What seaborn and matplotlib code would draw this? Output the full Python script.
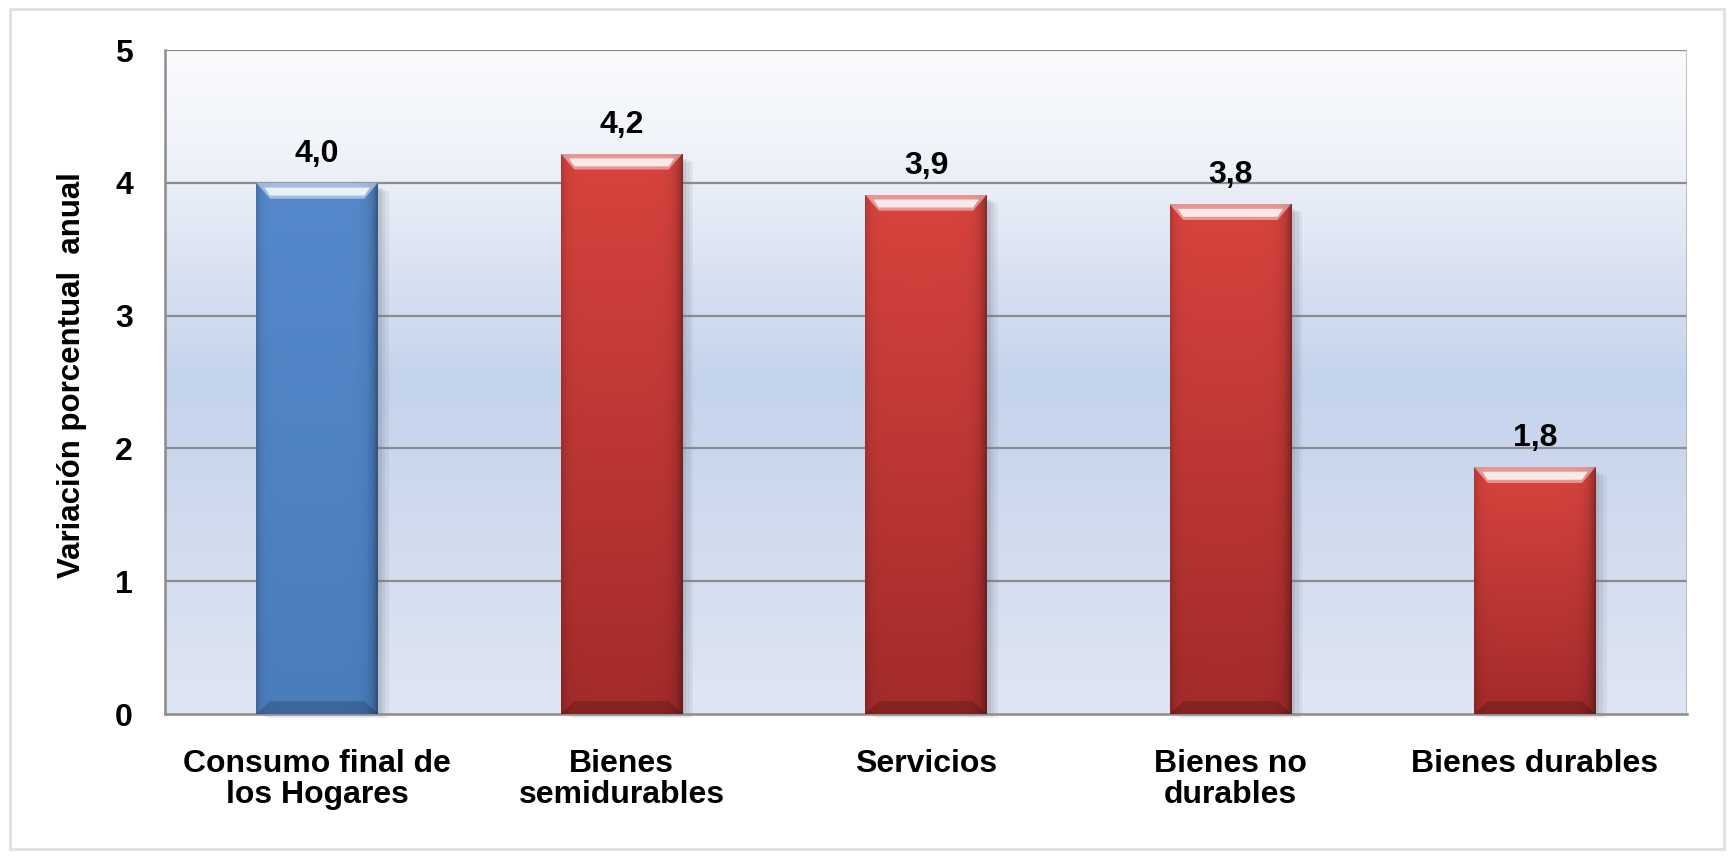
import numpy as np
import pandas as pd
import seaborn as sns
import matplotlib.pyplot as plt
from matplotlib.patches import Polygon, Rectangle
from matplotlib.colors import to_rgb

# Data
categories = ["Consumo final de\nlos Hogares", "Bienes\nsemidurables", "Servicios",
              "Bienes no\ndurables", "Bienes durables"]
values = [4.0, 4.22, 3.91, 3.84, 1.86]
value_labels = ["4,0", "4,2", "3,9", "3,8", "1,8"]
groups = ["total", "comp", "comp", "comp", "comp"]

df = pd.DataFrame({"cat": categories, "val": values, "grp": groups})

# colours (top, bottom) of each bar gradient
bar_colors = {"total": ("#5689cc", "#4b7dbd"), "comp": ("#d9433e", "#a22b2a")}

sns.set_style("white")
plt.rcParams["font.family"] = ["Liberation Sans", "DejaVu Sans"]
plt.rcParams["font.weight"] = "bold"
plt.rcParams["text.color"] = "black"
plt.rcParams["xtick.labelcolor"] = "black"
plt.rcParams["ytick.labelcolor"] = "black"
plt.rcParams["axes.labelcolor"] = "black"

fig = plt.figure(figsize=(17.32, 8.56), dpi=100)
ax = fig.add_axes([165 / 1732, 1 - 714 / 856, 1522 / 1732, 664 / 856])

# outer chart frame
fig.patches.append(Rectangle((10 / 1732, 7 / 856), 1714 / 1732, 840 / 856,
                             transform=fig.transFigure, fill=False,
                             edgecolor="#e0e0e0", lw=2, zorder=0))

# plot area background gradient
grad = np.array([to_rgb("#dfe6f3"), to_rgb("#d2dcef"), to_rgb("#c4d3ec"),
                 to_rgb("#dbe3f2"), to_rgb("#f0f3f9"), to_rgb("#fafbfd")])
yy = np.linspace(0, 1, 200)
stops = np.array([0.0, 0.25, 0.5, 0.68, 0.85, 1.0])
bg = np.stack([np.interp(yy, stops, grad[:, k]) for k in range(3)], axis=-1)
bg = bg[::-1][:, None, :]
ax.imshow(bg, extent=(0, 1, 0, 1), transform=ax.transAxes, aspect="auto", zorder=0)

sns.barplot(data=df, x="cat", y="val", hue="grp", dodge=False, width=0.4,
            palette={k: v[0] for k, v in bar_colors.items()}, legend=False,
            ax=ax, zorder=3)

ax.set_xlim(-0.5, 4.5)
ax.set_ylim(0, 5)

# bevelled look on each bar
for patch, grp, lab in zip(ax.patches, df["grp"], value_labels):
    x0 = patch.get_x()
    w = patch.get_width()
    h = patch.get_height()
    top, bot = bar_colors[grp]
    top, bot = np.array(to_rgb(top)), np.array(to_rgb(bot))
    t = np.linspace(0, 1, 120)[:, None]
    col = top * (1 - t) + bot * t
    u = np.linspace(0, 1, 120)[None, :]
    shade = 1 - 0.38 * np.exp(-(1 - u) / 0.05) - 0.18 * np.exp(-u / 0.04)
    img = np.clip(col[:, None, :] * shade[..., None], 0, 1)
    # soft shadow to the right / below
    for k, a in enumerate([0.10, 0.12, 0.16]):
        off = 0.012 * (3 - k)
        ax.add_patch(Rectangle((x0 + off, -0.03 * (3 - k) / 3), w, h - 0.03,
                               facecolor="#6d7686", alpha=a, edgecolor="none",
                               zorder=2.5, clip_on=False))
    im = ax.imshow(img, extent=(x0, x0 + w, 0, h), aspect="auto", zorder=3.2)
    im.set_clip_path(patch)
    patch.set_visible(False)
    # top bevel highlight
    bx = 0.045
    by = 0.12
    ax.add_patch(Polygon([(x0, h), (x0 + w, h), (x0 + w - bx, h - by), (x0 + bx, h - by)],
                         closed=True, facecolor="white", alpha=0.45,
                         edgecolor="none", zorder=3.4))
    ax.add_patch(Polygon([(x0 + bx * 0.6, h - by * 0.3), (x0 + w - bx * 0.6, h - by * 0.3),
                          (x0 + w - bx, h - by * 0.8), (x0 + bx, h - by * 0.8)],
                         closed=True, facecolor="white", alpha=0.8,
                         edgecolor="none", zorder=3.5))
    # bottom bevel shade
    ax.add_patch(Polygon([(x0, 0), (x0 + w, 0), (x0 + w - bx, by * 0.8), (x0 + bx, by * 0.8)],
                         closed=True, facecolor="black", alpha=0.18,
                         edgecolor="none", zorder=3.4))
    ax.annotate(lab, (x0 + w / 2, h), xytext=(0, 10), textcoords="offset points",
                ha="center", va="bottom", fontsize=23, fontweight="bold",
                color="black", zorder=5)

# grid, spines, ticks
ax.set_yticks([0, 1, 2, 3, 4, 5])
for y in [1, 2, 3, 4, 5]:
    ax.axhline(y, color="#8c8c8c", lw=1.6, zorder=1)
for s in ["top", "right"]:
    ax.spines[s].set_visible(False)
for s in ["left", "bottom"]:
    ax.spines[s].set_color("#8c8c8c")
    ax.spines[s].set_linewidth(1.8)
ax.axvline(4.5, color="#b0b0b0", lw=1.8, zorder=1)

ax.set_xticks(np.arange(-0.5, 5, 1), minor=True)
ax.tick_params(axis="x", which="major", length=0, pad=25, labelsize=23)
ax.tick_params(axis="x", which="minor", length=9, width=1.8, color="#8c8c8c", direction="out")
ax.tick_params(axis="y", length=9, width=1.8, color="#8c8c8c", direction="out",
               pad=14, labelsize=23)
for t in ax.get_xticklabels() + ax.get_yticklabels():
    t.set_fontweight("bold")
for t in ax.get_xticklabels():
    t.set_linespacing(1.05)

ax.set_xlabel("")
ax.set_ylabel("Variación porcentual  anual", fontsize=22.5, fontweight="bold")
ax.yaxis.set_label_coords(-0.051, 0.51)

fig.savefig("out.png", dpi=100)
